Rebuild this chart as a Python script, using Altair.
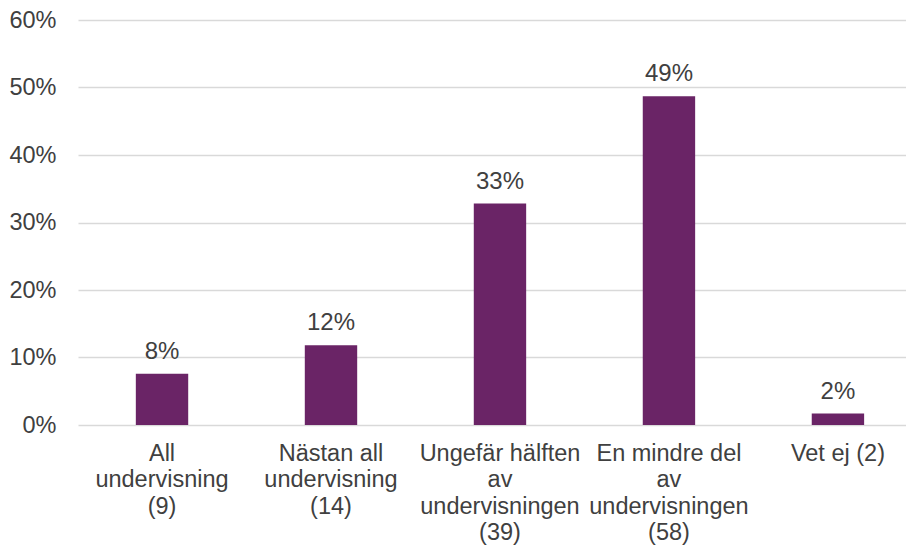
import altair as alt
import pandas as pd

categories = [
    "All\nundervisning\n(9)",
    "Nästan all\nundervisning\n(14)",
    "Ungefär hälften\nav\nundervisningen\n(39)",
    "En mindre del\nav\nundervisningen\n(58)",
    "Vet ej (2)",
]
values = [0.076, 0.118, 0.328, 0.487, 0.017]
y_ticks = [0, 0.1, 0.2, 0.3, 0.4, 0.5, 0.6]

df = pd.DataFrame({"cat": categories, "val": values})

FONT = "Liberation Sans"
TXT = "#404040"
GRID = "#d9d9d9"

x = alt.X(
    "cat:N",
    sort=categories,
    title=None,
    scale=alt.Scale(paddingInner=0.69, paddingOuter=0.295, align=0.58),
    axis=alt.Axis(
        labelAngle=0,
        labelExpr="split(datum.label, '\\n')",
        labelFont=FONT,
        labelFontSize=23.5,
        labelLineHeight=26.5,
        labelColor=TXT,
        labelPadding=16,
        ticks=False,
        domain=False,
        grid=False,
        labelLimit=300,
    ),
)
y = alt.Y(
    "val:Q",
    title=None,
    scale=alt.Scale(domain=[0, 0.6], nice=False),
    axis=alt.Axis(
        values=y_ticks,
        format=".0%",
        labelFont=FONT,
        labelFontSize=23.5,
        labelColor=TXT,
        labelPadding=22,
        ticks=False,
        domain=False,
        grid=True,
        gridColor=GRID,
        gridWidth=1.5,
    ),
)

bars = alt.Chart(df).mark_bar(color="#6A2466").encode(x=x, y=y)
labels = alt.Chart(df).mark_text(
    baseline="bottom", dy=-10, font=FONT, fontSize=24, color=TXT
).encode(x=x, y=y, text=alt.Text("val:Q", format=".0%"))

chart = (
    alt.layer(bars, labels)
    .properties(
        width=828,
        height=405,
        autosize=alt.AutoSizeParams(type="none"),
        padding={"left": 70, "top": 12, "right": 0, "bottom": 126},
        view=alt.ViewBackground(strokeOpacity=0, strokeWidth=0),
    )
    .configure_view(strokeWidth=0, strokeOpacity=0)
    .configure_axis(domain=False)
    .configure(background="white")
)

chart.save("out.html", embed_options={"renderer": "svg", "actions": False})
